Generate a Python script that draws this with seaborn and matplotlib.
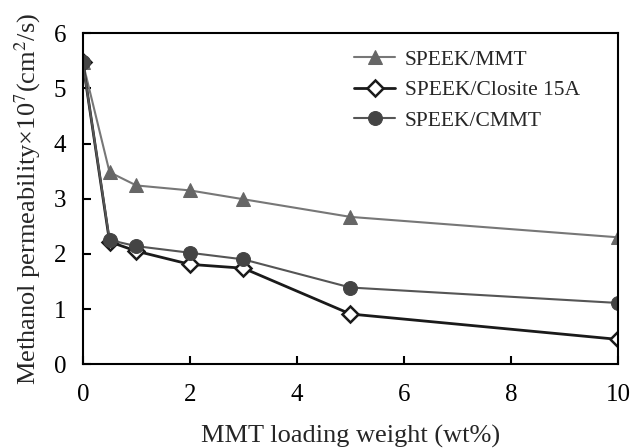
import pandas as pd
import matplotlib
matplotlib.use('Agg')
import matplotlib.pyplot as plt
import seaborn as sns

# data
loading = [0, 0.5, 1, 2, 3, 5, 10]
speek_mmt = [5.47, 3.48, 3.24, 3.15, 2.99, 2.67, 2.30]
speek_closite = [5.47, 2.22, 2.05, 1.81, 1.74, 0.91, 0.45]
speek_cmmt = [5.47, 2.25, 2.14, 2.02, 1.90, 1.39, 1.11]
series_names = ['SPEEK/MMT', 'SPEEK/Closite 15A', 'SPEEK/CMMT']

sns.set_theme(style='white')
plt.rcParams['font.family'] = ['Liberation Serif', 'DejaVu Serif']
plt.rcParams['mathtext.fontset'] = 'stix'

fig, ax = plt.subplots(figsize=(6.32, 4.48), dpi=100)

df = pd.DataFrame({'x': loading, series_names[0]: speek_mmt,
                   series_names[1]: speek_closite, series_names[2]: speek_cmmt})

styles = {
    'SPEEK/MMT': dict(color='#777777', marker='^', markersize=10, linewidth=1.5,
                      markerfacecolor='#666666', markeredgecolor='#666666'),
    'SPEEK/Closite 15A': dict(color='#1a1a1a', marker='D', markersize=8, linewidth=2,
                              markerfacecolor='white', markeredgecolor='#1a1a1a', markeredgewidth=1.8),
    'SPEEK/CMMT': dict(color='#555555', marker='o', markersize=10, linewidth=1.5,
                       markerfacecolor='#444444', markeredgecolor='#444444'),
}

for name in series_names:
    sns.lineplot(data=df, x='x', y=name, ax=ax, label=name, **styles[name])

ax.set_xlim(0, 10)
ax.set_ylim(0, 6)
ax.set_xticks([0, 2, 4, 6, 8, 10])
ax.set_yticks([0, 1, 2, 3, 4, 5, 6])
ax.tick_params(direction='in', length=6, width=1.5, labelsize=18,
               bottom=True, left=True, top=False, right=False, colors='black')
ax.tick_params(axis='x', pad=14)
ax.tick_params(axis='y', pad=12)
for sp in ax.spines.values():
    sp.set_visible(True)
    sp.set_color('black')
    sp.set_linewidth(1.5)

ax.set_xlabel('MMT loading weight (wt%)', fontsize=19, labelpad=14)
ax.set_ylabel('Methanol permeability×10$^7$(cm$^2$/s)', fontsize=19, labelpad=8)

ax.legend(loc='upper left', bbox_to_anchor=(0.507, 0.95), frameon=False, fontsize=15.5,
          handlelength=1.9, handletextpad=0.45, labelspacing=0.48,
          borderpad=0, borderaxespad=0)

plt.subplots_adjust(left=0.131, right=0.978, top=0.926, bottom=0.187)
plt.savefig('out.png', dpi=100)
